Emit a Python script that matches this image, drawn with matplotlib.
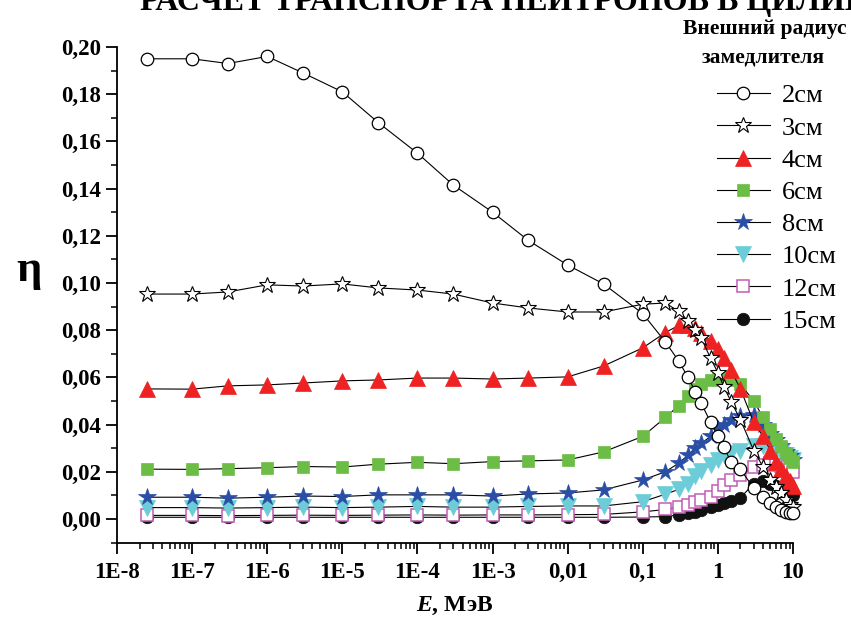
import numpy as np
import matplotlib
matplotlib.use('Agg')
import matplotlib.pyplot as plt
from matplotlib.ticker import LogLocator, MultipleLocator, FuncFormatter, NullFormatter

plt.rcParams['font.family'] = ['Liberation Serif', 'DejaVu Serif']
plt.rcParams['mathtext.fontset'] = 'custom'
plt.rcParams['mathtext.it'] = 'Liberation Serif:bold:italic'
plt.rcParams['mathtext.rm'] = 'Liberation Serif:bold'

# neutron energy, MeV
energy = [2.53e-8, 1e-7, 3e-7, 1e-6, 3e-6, 1e-5, 3e-5, 1e-4, 3e-4, 1e-3, 3e-3, 1e-2, 3e-2,
          0.1, 0.2, 0.3, 0.4, 0.5, 0.6, 0.8, 1.0, 1.2, 1.5, 2.0, 3, 4, 5, 6, 7, 8, 9, 10]

labels = ['2см', '3см', '4см', '6см', '8см', '10см', '12см', '15см']

eta_2 = [0.195, 0.195, 0.193, 0.196, 0.189, 0.181, 0.168, 0.155, 0.1415, 0.130, 0.118, 0.1076, 0.0996,
         0.087, 0.075, 0.067, 0.060, 0.054, 0.049, 0.041, 0.035, 0.0305, 0.024, 0.021,
         0.013, 0.0094, 0.0067, 0.0052, 0.0038, 0.0031, 0.0027, 0.0025]
eta_3 = [0.0953, 0.0953, 0.0962, 0.0992, 0.0987, 0.0996, 0.0979, 0.097, 0.0953, 0.0915, 0.0894, 0.0877, 0.0877,
         0.091, 0.0915, 0.088, 0.084, 0.080, 0.0767, 0.068, 0.062, 0.056, 0.0497, 0.042,
         0.029, 0.022, 0.0165, 0.0137, 0.011, 0.008, 0.006, 0.005]
eta_4 = [0.0551, 0.055, 0.0564, 0.0568, 0.0576, 0.0585, 0.0589, 0.0597, 0.0597, 0.0593, 0.0597, 0.0602, 0.0648,
         0.0725, 0.079, 0.082, 0.082, 0.081, 0.079, 0.0755, 0.072, 0.068, 0.063, 0.055,
         0.041, 0.035, 0.029, 0.024, 0.021, 0.018, 0.016, 0.014]
eta_6 = [0.0211, 0.021, 0.0213, 0.0217, 0.0222, 0.022, 0.0232, 0.024, 0.0234, 0.0243, 0.0246, 0.025, 0.0284,
         0.035, 0.043, 0.048, 0.052, 0.055, 0.057, 0.059, 0.0595, 0.060, 0.059, 0.057,
         0.050, 0.043, 0.038, 0.034, 0.031, 0.028, 0.026, 0.024]
eta_8 = [0.0092, 0.0092, 0.0088, 0.0092, 0.0097, 0.0095, 0.0102, 0.0102, 0.0102, 0.0097, 0.0106, 0.011, 0.0123,
         0.0165, 0.020, 0.0236, 0.027, 0.030, 0.032, 0.035, 0.038, 0.040, 0.042, 0.0435,
         0.044, 0.040, 0.036, 0.0335, 0.031, 0.0285, 0.0265, 0.025]
eta_10 = [0.0048, 0.0048, 0.0046, 0.0048, 0.005, 0.0048, 0.005, 0.0053, 0.005, 0.005, 0.0053, 0.0055, 0.0055,
          0.0073, 0.0105, 0.0125, 0.015, 0.018, 0.0205, 0.023, 0.025, 0.027, 0.028, 0.029,
          0.031, 0.031, 0.030, 0.029, 0.028, 0.027, 0.026, 0.025]
eta_12 = [0.0015, 0.0015, 0.0014, 0.0015, 0.0016, 0.0015, 0.0016, 0.0017, 0.0016, 0.0017, 0.0017, 0.0018, 0.0019,
          0.003, 0.004, 0.005, 0.006, 0.007, 0.008, 0.0095, 0.012, 0.0145, 0.0165, 0.0185,
          0.022, 0.023, 0.0235, 0.023, 0.0225, 0.022, 0.021, 0.020]
eta_15 = [0.0007, 0.0007, 0.0007, 0.0007, 0.0007, 0.0007, 0.0007, 0.0007, 0.0007, 0.0007, 0.0007, 0.0007, 0.0007,
          0.0008, 0.001, 0.0017, 0.0025, 0.003, 0.0038, 0.0052, 0.006, 0.0067, 0.0075, 0.009,
          0.015, 0.016, 0.015, 0.014, 0.013, 0.012, 0.011, 0.010]

series = [eta_2, eta_3, eta_4, eta_6, eta_8, eta_10, eta_12, eta_15]
styles = [
    dict(marker='o', ms=9, mfc='white', mec='black', mew=0.9),
    dict(marker='*', ms=12, mfc='white', mec='black', mew=0.8),
    dict(marker='^', ms=11, mfc='#ee2222', mec='#ee2222', mew=0.5),
    dict(marker='s', ms=9, mfc='#6bbd45', mec='#6bbd45', mew=0.5),
    dict(marker='*', ms=13, mfc='#2a4ea6', mec='#2a4ea6', mew=0.5),
    dict(marker='v', ms=11, mfc='#6ccdd9', mec='#6ccdd9', mew=0.5),
    dict(marker='s', ms=8, mfc='white', mec='#c25cb6', mew=1.1),
    dict(marker='o', ms=9, mfc='#111111', mec='#111111', mew=0.5),
]

fig = plt.figure(figsize=(8.51, 6.23), dpi=100)
ax = fig.add_axes([117 / 851, 1 - 543 / 623, 676 / 851, 496 / 623])

n = len(series)
for i in range(n):
    ax.plot(energy, series[i], color='black', lw=0.8, label=labels[i],
            zorder=10 + (n - i), clip_on=False, **styles[i])

ax.set_xscale('log')
ax.set_xlim(1e-8, 10)
ax.set_ylim(-0.0102, 0.2)

ax.spines['top'].set_visible(False)
ax.spines['right'].set_visible(False)
for s in ['left', 'bottom']:
    ax.spines[s].set_linewidth(1.3)

ax.xaxis.set_major_locator(LogLocator(base=10, numticks=20))
ax.xaxis.set_minor_locator(LogLocator(base=10, subs=np.arange(2, 10), numticks=20))
ax.xaxis.set_minor_formatter(NullFormatter())

xnames = {-2: '0,01', -1: '0,1', 0: '1', 1: '10'}


def xfmt(v, pos):
    p = int(round(np.log10(v)))
    if p <= -3:
        return '1E%d' % p
    return xnames.get(p, '')


ax.xaxis.set_major_formatter(FuncFormatter(xfmt))
ax.yaxis.set_major_locator(MultipleLocator(0.02))
ax.yaxis.set_minor_locator(MultipleLocator(0.01))
ax.yaxis.set_major_formatter(FuncFormatter(lambda v, p: ('%.2f' % abs(v)).replace('.', ',')))

ax.tick_params(which='major', direction='out', length=8, width=1.3, labelsize=16.5)
ax.tick_params(which='minor', direction='out', length=4.5, width=1.1)
ax.tick_params(axis='x', pad=6)
for lab in ax.get_xticklabels() + ax.get_yticklabels():
    lab.set_fontweight('bold')

ax.set_xlabel(r'$E$, МэВ', fontsize=17, fontweight='bold', labelpad=8)
ax.set_ylabel('η', rotation=0, fontsize=32, fontweight='bold')
ax.yaxis.set_label_coords(-0.13, 0.51)

fig.text(140 / 851, 1 - 10 / 623, 'РАСЧЕТ ТРАНСПОРТА НЕЙТРОНОВ В ЦИЛИНДРЕ',
         fontsize=23, fontweight='bold', va='baseline', ha='left')
fig.text(765 / 851, 1 - 29 / 623, 'Внешний радиус', fontsize=15.5, fontweight='bold',
         ha='center', va='center')
fig.text(763 / 851, 1 - 57 / 623, 'замедлителя', fontsize=15.5, fontweight='bold',
         ha='center', va='center')

fig.legend(loc='upper left', bbox_to_anchor=(717 / 851, 1 - 84 / 623), frameon=False,
           fontsize=19, handlelength=2.0, handletextpad=0.45, labelspacing=0.33,
           borderpad=0, borderaxespad=0)

fig.savefig('out.png', dpi=100)
